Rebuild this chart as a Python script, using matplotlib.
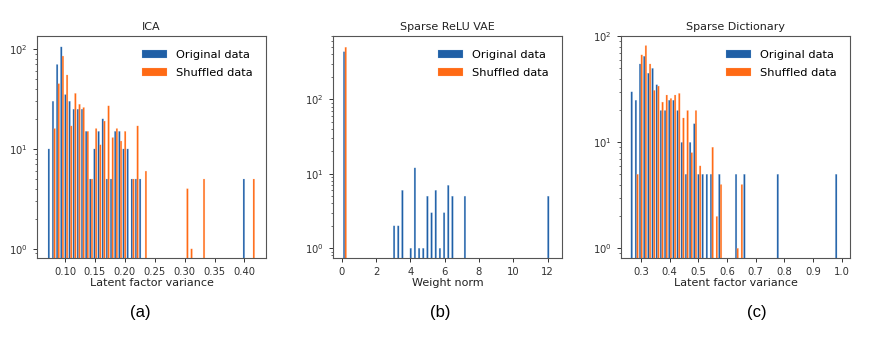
import numpy as np
import matplotlib
matplotlib.use("Agg")
import matplotlib.pyplot as plt
from matplotlib.ticker import FormatStrFormatter

# colours as they appear in the figure
BLUE = "#1f5fa6"
ORANGE = "#ff6a14"

# ---- (a) ICA: 50 bins, counts per bin ----
ica_range = (0.0707, 0.4177)
ica_orig = [10, 30, 70, 105, 35, 30, 25, 25, 25, 15,
            5, 10, 15, 20, 5, 5, 15, 15, 10, 10,
            5, 5, 5, 0, 0, 0, 0, 0, 0, 0,
            0, 0, 0, 0, 0, 0, 0, 0, 0, 0,
            0, 0, 0, 0, 0, 0, 0, 5, 0, 0]
ica_shuf = [0, 16, 45, 85, 55, 17, 36, 28, 26, 15,
            5, 16, 11, 19, 27, 13, 16, 12, 15, 0,
            5, 17, 0, 6, 0, 0, 0, 0, 0, 0,
            0, 0, 0, 4, 1, 0, 0, 5, 0, 0,
            0, 0, 0, 0, 0, 0, 0, 0, 0, 5]

# ---- (b) Sparse ReLU VAE ----
vae_range = (0.062, 12.21)
vae_orig = [435, 0, 0, 0, 0, 0, 0, 0, 0, 0,
            0, 0, 2, 2, 6, 0, 1, 12, 1, 1,
            5, 3, 6, 1, 3, 7, 5, 0, 0, 5,
            0, 0, 0, 0, 0, 0, 0, 0, 0, 0,
            0, 0, 0, 0, 0, 0, 0, 0, 0, 5]
vae_shuf = [500] + [0] * 49

# ---- (c) Sparse Dictionary ----
dict_range = (0.263, 0.991)
dict_orig = [30, 25, 55, 65, 45, 50, 35, 20, 20, 25,
             25, 20, 10, 5, 10, 15, 5, 5, 5, 5,
             0, 5, 0, 0, 0, 5, 0, 5, 0, 0,
             0, 0, 0, 0, 0, 5, 0, 0, 0, 0,
             0, 0, 0, 0, 0, 0, 0, 0, 0, 5]
dict_shuf = [0, 5, 67, 82, 55, 31, 34, 24, 28, 26,
             28, 29, 17, 20, 8, 20, 6, 0, 0, 9,
             2, 4, 0, 0, 0, 1, 4, 0, 0, 0,
             0, 0, 0, 0, 0, 0, 0, 0, 0, 0,
             0, 0, 0, 0, 0, 0, 0, 0, 0, 0]

panels = [
    ("ICA", "Latent factor variance", ica_range, ica_orig, ica_shuf,
     (0.053, 0.436), (0.81, 135), np.arange(0.10, 0.41, 0.05), "%.2f", "(a)"),
    ("Sparse ReLU VAE", "Weight norm", vae_range, vae_orig, vae_shuf,
     (-0.51, 12.84), (0.74, 708), np.arange(0, 13, 2), "%d", "(b)"),
    ("Sparse Dictionary", "Latent factor variance", dict_range, dict_orig, dict_shuf,
     (0.23, 1.029), (0.81, 101), np.arange(0.3, 1.01, 0.1), "%.1f", "(c)"),
]

lefts = [37 / 880, 333 / 880, 621 / 880]
label_x = [140 / 880, 440 / 880, 757 / 880]

fig = plt.figure(figsize=(8.8, 3.39), dpi=100)

for (title, xlabel, rng, orig, shuf, xlim, ylim, xticks, fmt, tag), left, lx in zip(panels, lefts, label_x):
    ax = fig.add_axes([left, 1 - 258 / 339, 229 / 880, 222 / 339])
    edges = np.linspace(rng[0], rng[1], len(orig) + 1)
    mids = 0.5 * (edges[:-1] + edges[1:])
    _, _, groups = ax.hist([mids, mids], bins=edges, weights=[orig, shuf], log=True,
                           color=[BLUE, ORANGE], label=["Original data", "Shuffled data"])
    # bars are ~2px wide: soft light outline, no snapping so none vanish
    for grp, halo in zip(groups, [(0.6, 0.75, 0.9, 0.5), (1.0, 0.75, 0.6, 0.5)]):
        for p in grp:
            p.set_snap(False)
            p.set_edgecolor(halo)
            p.set_linewidth(0.3)
    ax.set_xlim(*xlim)
    ax.set_ylim(*ylim)
    ax.set_xticks(xticks)
    ax.xaxis.set_major_formatter(FormatStrFormatter(fmt))
    ax.tick_params(labelsize=7.2, colors="#333333", length=3, width=0.7)
    ax.tick_params(which="minor", length=1.8, width=0.5, colors="#333333")
    for sp in ax.spines.values():
        sp.set_color("#555555")
        sp.set_linewidth(0.8)
    ax.set_title(title, fontsize=8, color="#222222", pad=4)
    ax.set_xlabel(xlabel, fontsize=8, color="#222222", labelpad=1)
    ax.legend(loc="upper right", fontsize=8.2, frameon=False,
              handlelength=2.2, borderaxespad=0.8, labelspacing=0.7)
    fig.text(lx, 1 - 312 / 339, tag, ha="center", va="center",
             fontsize=12, family="Liberation Sans")

fig.savefig("out.png", dpi=100)
